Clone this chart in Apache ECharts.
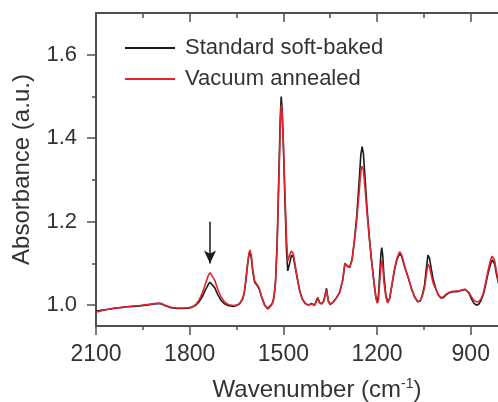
<!DOCTYPE html>
<html>
<head>
<meta charset="utf-8">
<script src="https://cdn.jsdelivr.net/npm/echarts@6/dist/echarts.min.js"></script>
<style>
html,body{margin:0;padding:0;background:#fff;overflow:hidden;}
#chart{width:502px;height:402px;background:#fff;}
</style>
</head>
<body>
<div id="chart"></div>
<script>
// Data
var wavenumbers = [2100,2080,2060,2040,2020,2000,1980,1960,1940,1920,1900,1890,1880,1860,1840,1820,1800,1790,1780,1770,1760,1750,1740,1735,1730,1720,1710,1700,1690,1680,1670,1660,1650,1640,1630,1625,1620,1615,1610,1607,1603,1598,1592,1585,1578,1570,1560,1550,1540,1535,1530,1525,1520,1515,1510,1507,1504,1500,1495,1490,1486,1480,1474,1468,1462,1455,1448,1440,1430,1420,1410,1400,1390,1384,1377,1370,1362,1356,1350,1340,1330,1320,1310,1303,1296,1288,1280,1272,1265,1258,1252,1248,1244,1238,1232,1225,1218,1210,1204,1200,1196,1192,1188,1185,1182,1178,1172,1166,1160,1152,1144,1136,1128,1122,1115,1108,1100,1090,1080,1070,1062,1055,1048,1042,1037,1032,1026,1020,1012,1004,996,988,978,968,958,948,938,928,918,912,905,898,890,882,875,868,860,852,845,838,832,828,824,818,812,806,800];
var standardSoftBaked = [0.985,0.988,0.990,0.993,0.994,0.996,0.997,0.998,1.000,1.002,1.004,1.003,0.999,0.994,0.992,0.992,0.993,0.996,1.000,1.008,1.020,1.036,1.050,1.055,1.053,1.042,1.025,1.012,1.004,1.000,0.998,0.997,0.999,1.003,1.015,1.030,1.060,1.095,1.122,1.128,1.115,1.080,1.055,1.048,1.040,1.020,1.000,0.992,1.000,1.005,1.020,1.060,1.150,1.300,1.450,1.500,1.470,1.380,1.250,1.130,1.082,1.100,1.120,1.115,1.090,1.062,1.035,1.015,1.004,1.000,1.004,1.000,1.018,1.006,1.003,1.012,1.040,1.010,1.002,1.008,1.018,1.030,1.060,1.100,1.095,1.090,1.110,1.160,1.215,1.290,1.360,1.380,1.365,1.300,1.230,1.165,1.110,1.055,1.020,1.008,1.020,1.070,1.120,1.138,1.120,1.070,1.025,1.008,1.015,1.050,1.085,1.110,1.123,1.118,1.100,1.083,1.065,1.040,1.020,1.008,1.010,1.025,1.048,1.090,1.120,1.112,1.085,1.060,1.040,1.025,1.017,1.018,1.025,1.030,1.032,1.032,1.033,1.036,1.038,1.036,1.028,1.015,1.005,1.000,1.002,1.010,1.025,1.050,1.075,1.095,1.108,1.110,1.100,1.075,1.055,1.040,1.030];
var vacuumAnnealed = [0.983,0.987,0.990,0.992,0.995,0.996,0.998,0.999,1.001,1.003,1.005,1.004,1.000,0.995,0.993,0.993,0.994,0.997,1.002,1.012,1.028,1.050,1.072,1.078,1.075,1.060,1.038,1.020,1.009,1.003,1.000,0.999,1.000,1.004,1.017,1.032,1.062,1.098,1.125,1.132,1.120,1.085,1.058,1.050,1.042,1.022,1.000,0.990,0.998,1.004,1.018,1.055,1.140,1.280,1.420,1.480,1.460,1.390,1.270,1.160,1.105,1.120,1.130,1.122,1.095,1.064,1.036,1.016,1.004,1.000,1.003,0.999,1.016,1.005,1.003,1.010,1.036,1.008,1.001,1.007,1.017,1.030,1.060,1.100,1.093,1.090,1.108,1.155,1.205,1.265,1.320,1.333,1.325,1.275,1.220,1.160,1.108,1.055,1.020,1.005,1.010,1.050,1.090,1.108,1.095,1.055,1.020,1.005,1.015,1.052,1.088,1.113,1.128,1.122,1.103,1.085,1.066,1.040,1.020,1.009,1.010,1.022,1.042,1.075,1.098,1.092,1.070,1.052,1.038,1.025,1.018,1.020,1.027,1.031,1.033,1.034,1.034,1.036,1.037,1.035,1.030,1.020,1.012,1.008,1.008,1.014,1.028,1.055,1.082,1.105,1.117,1.118,1.108,1.082,1.060,1.045,1.035];
var xMajorTicks = [2100,1800,1500,1200,900];
var xMinorTicks = [1950,1650,1350,1050];
var yMajorTicks = [1.0,1.2,1.4,1.6];
var yMinorTicks = [1.1,1.3,1.5];
var arrowFrom = [1735, 1.20];
var arrowTo = [1735, 1.10];
var seriesNames = ['Standard soft-baked','Vacuum annealed'];

function pairs(xs, ys){ return xs.map(function(x,i){ return [x, ys[i]]; }); }

var FONT = 'Liberation Sans, Arial, sans-serif';
var TXT = '#333333';
var AX = '#505050';
var xMin = 800, xMax = 2100, yMin = 0.95, yMax = 1.7;

function xAx(pos, ticks, len, inside, labels){
  return {
    type:'value', position:pos, inverse:true, min:xMin, max:xMax,
    axisLine:{show:true, onZero:false, lineStyle:{color:AX, width:2}},
    axisTick:{show:true, customValues:ticks, length:len, inside:inside, lineStyle:{color:AX, width:1.5}},
    axisLabel:{show:!!labels, customValues:ticks, margin:17, color:TXT, fontFamily:FONT, fontSize:23,
      formatter:function(v){ return String(v); }},
    splitLine:{show:false}
  };
}
function yAx(ticks, len, labels){
  return {
    type:'value', position:'left', min:yMin, max:yMax,
    axisLine:{show:true, onZero:false, lineStyle:{color:AX, width:2}},
    axisTick:{show:true, customValues:ticks, length:len, lineStyle:{color:AX, width:1.5}},
    axisLabel:{show:!!labels, customValues:ticks, margin:19, color:TXT, fontFamily:FONT, fontSize:22,
      formatter:function(v){ return v.toFixed(1); }},
    splitLine:{show:false}
  };
}

// order: bottom major, top major, bottom minor, top minor
var xAxes = [xAx('bottom', xMajorTicks, 9, false, true), xAx('top', xMajorTicks, 9, true, false),
             xAx('bottom', xMinorTicks, 4, false, false), xAx('top', xMinorTicks, 5, true, false)];
xAxes[0].name = 'Wavenumber (cm{sup|-1})';
xAxes[0].nameLocation = 'middle';
xAxes[0].nameGap = 51;
xAxes[0].nameTextStyle = {color:TXT, fontFamily:FONT, fontSize:24, padding:[0,0,0,36],
  rich:{sup:{fontSize:14, fontFamily:FONT, color:TXT, verticalAlign:'top', padding:[0,0,12,0]}}};
var yAxes = [yAx(yMajorTicks, 9, true), yAx(yMinorTicks, 4, false)];
yAxes[0].name = 'Absorbance (a.u.)';
yAxes[0].nameLocation = 'middle';
yAxes[0].nameGap = 62;
yAxes[0].nameTextStyle = {color:TXT, fontFamily:FONT, fontSize:24};

var chart = echarts.init(document.getElementById('chart'));
chart.setOption({
  animation:false,
  grid:{left:96, top:13, right:0, bottom:76, outerBoundsMode:'none',
        show:true, borderColor:AX, borderWidth:2, backgroundColor:'transparent'},
  legend:{
    show:true, orient:'vertical', left:120, top:32, itemWidth:50, itemHeight:2, itemGap:9,
    textStyle:{color:TXT, fontFamily:FONT, fontSize:22, padding:[0,0,0,5], lineHeight:19},
    data:[{name:seriesNames[0], icon:'rect'},{name:seriesNames[1], icon:'rect'}]
  },
  xAxis:xAxes,
  yAxis:yAxes,
  series:[
    {name:seriesNames[0], type:'line', xAxisIndex:0, yAxisIndex:0, symbol:'none', data:pairs(wavenumbers, standardSoftBaked),
     lineStyle:{color:'#1a1a1a', width:1.6}, itemStyle:{color:'#1a1a1a'},
     markLine:{silent:true, symbol:['none','arrow'], symbolSize:[9,13], label:{show:false},
       lineStyle:{color:'#1a1a1a', width:1.5, type:'solid'},
       data:[[{coord:arrowFrom},{coord:arrowTo}]]}},
    {name:seriesNames[1], type:'line', xAxisIndex:0, yAxisIndex:0, symbol:'none', data:pairs(wavenumbers, vacuumAnnealed),
     lineStyle:{color:'#e0262c', width:1.6}, itemStyle:{color:'#e0262c'}}
  ]
});
</script>
</body>
</html>
